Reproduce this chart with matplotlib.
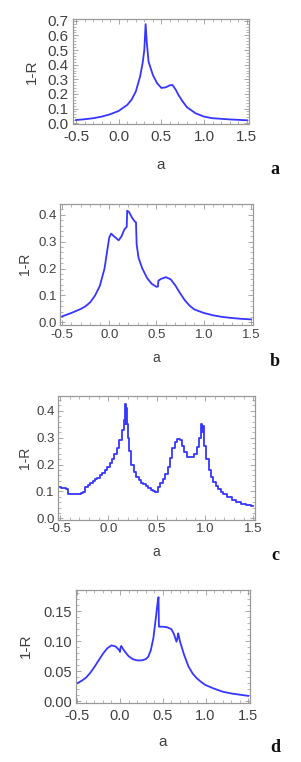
import matplotlib
matplotlib.use("Agg")
import matplotlib.pyplot as plt
from matplotlib.ticker import MultipleLocator, FormatStrFormatter

plt.rcParams['font.family'] = ['Liberation Sans', 'DejaVu Sans']

# panel a
xa = [-0.5, -0.4, -0.3, -0.2, -0.1, 0.0, 0.1, 0.15, 0.2, 0.25, 0.28, 0.30, 0.315,
      0.33, 0.35, 0.4, 0.45, 0.5, 0.55, 0.6, 0.63, 0.67, 0.7, 0.75, 0.8, 0.9, 1.0,
      1.1, 1.2, 1.3, 1.4, 1.5]
ya = [0.022, 0.027, 0.034, 0.045, 0.061, 0.084, 0.125, 0.16, 0.216, 0.318, 0.41, 0.5, 0.677,
      0.545, 0.42, 0.33, 0.273, 0.241, 0.245, 0.259, 0.261, 0.227, 0.193, 0.148, 0.109, 0.068, 0.045,
      0.034, 0.03, 0.026, 0.023, 0.02]

# panel b
xb = [-0.5, -0.4, -0.3, -0.25, -0.2, -0.15, -0.1, -0.05, -0.02, 0.0, 0.02, 0.05, 0.1,
      0.13, 0.16, 0.185, 0.19, 0.21, 0.24, 0.27, 0.283, 0.29, 0.31, 0.35, 0.4, 0.45,
      0.5, 0.515, 0.52, 0.55, 0.6, 0.65, 0.7, 0.75, 0.8, 0.85, 0.9, 1.0, 1.1, 1.2,
      1.3, 1.4, 1.5]
yb = [0.022, 0.035, 0.05, 0.06, 0.075, 0.1, 0.135, 0.2, 0.27, 0.315, 0.33, 0.32, 0.305,
      0.32, 0.345, 0.355, 0.415, 0.41, 0.39, 0.375, 0.372, 0.29, 0.24, 0.20, 0.165, 0.143,
      0.132, 0.133, 0.155, 0.162, 0.168, 0.16, 0.137, 0.108, 0.082, 0.062, 0.048, 0.035, 0.026, 0.02,
      0.016, 0.013, 0.011]

# panel c
xc = [-0.5, -0.475, -0.45, -0.425, -0.4, -0.375, -0.35, -0.325, -0.3, -0.275, -0.25,
      -0.225, -0.2, -0.175, -0.15, -0.125, -0.1, -0.075, -0.05, -0.025, 0.0, 0.025,
      0.05, 0.075, 0.1, 0.125, 0.15, 0.165, 0.175, 0.185, 0.19, 0.2, 0.21, 0.225,
      0.25, 0.275, 0.3, 0.325, 0.35, 0.375, 0.4, 0.425, 0.45, 0.475, 0.5, 0.525,
      0.55, 0.575, 0.6, 0.625, 0.65, 0.675, 0.7, 0.725, 0.75, 0.775, 0.8, 0.825,
      0.85, 0.875, 0.9, 0.925, 0.95, 0.965, 0.975, 0.98, 0.99, 1.0, 1.025, 1.05,
      1.075, 1.1, 1.125, 1.15, 1.175, 1.2, 1.25, 1.3, 1.35, 1.4, 1.45, 1.5]
yc = [0.115, 0.114, 0.113, 0.111, 0.092, 0.091, 0.091, 0.091, 0.092, 0.094, 0.097,
      0.118, 0.125, 0.131, 0.138, 0.145, 0.152, 0.160, 0.170, 0.180, 0.192, 0.205,
      0.222, 0.240, 0.262, 0.29, 0.33, 0.365, 0.425, 0.35, 0.41, 0.35, 0.30, 0.25,
      0.2, 0.172, 0.155, 0.142, 0.133, 0.127, 0.121, 0.113, 0.107, 0.101, 0.099, 0.118,
      0.13, 0.145, 0.165, 0.19, 0.225, 0.26, 0.285, 0.295, 0.29, 0.268, 0.245, 0.23,
      0.227, 0.228, 0.24, 0.265, 0.3, 0.35, 0.32, 0.345, 0.3, 0.27, 0.22, 0.18,
      0.155, 0.135, 0.12, 0.108, 0.098, 0.09, 0.078, 0.068, 0.06, 0.054, 0.049, 0.045]

# panel d
xd = [-0.5, -0.45, -0.4, -0.35, -0.3, -0.25, -0.2, -0.15, -0.1, -0.05, -0.01, 0.0,
      0.005, 0.015, 0.03, 0.06, 0.1, 0.15, 0.2, 0.25, 0.3, 0.33, 0.36, 0.39, 0.42,
      0.44, 0.45, 0.455, 0.5, 0.55, 0.6, 0.63, 0.66, 0.67, 0.68, 0.69, 0.70, 0.75,
      0.8, 0.85, 0.9, 0.95, 1.0, 1.1, 1.2, 1.3, 1.4, 1.5]
yd = [0.030, 0.034, 0.039, 0.047, 0.057, 0.068, 0.079, 0.088, 0.093, 0.091, 0.085, 0.082,
      0.089, 0.092, 0.088, 0.082, 0.075, 0.070, 0.068, 0.068, 0.070, 0.074, 0.085, 0.105, 0.14,
      0.165, 0.173, 0.124, 0.124, 0.123, 0.12, 0.112, 0.099, 0.104, 0.113, 0.107, 0.1, 0.077,
      0.058, 0.046, 0.038, 0.032, 0.027, 0.021, 0.016, 0.013, 0.011, 0.009]

W, H = 301, 762
fig = plt.figure(figsize=(W / 100, H / 100), dpi=100)

frame_col = '#999999'
text_col = '#404040'
line_col = '#3636ff'


def fx(px):
    return px / W


def fy(py):
    return 1 - py / H


panels = [
    dict(x=xa, y=ya, box=(73.3, 248.7, 19.3, 123.5), xlim=(-0.532, 1.523), ylim=(-0.002, 0.71),
         ymaj=0.1, ymin=0.02, fmt='%.1f', tsize=11, xpad=5, ypad=3.2, lsize=11,
         ylx=32, xly=165, letter='a', lety=170, ds=None),
    dict(x=xb, y=yb, box=(60, 252.7, 204, 324.5), xlim=(-0.521, 1.518), ylim=(-0.008, 0.44),
         ymaj=0.1, ymin=0.02, fmt='%.1f', tsize=9.5, xpad=3.4, ypad=2.4, lsize=10,
         ylx=25, xly=358, letter='b', lety=362, ds=None),
    dict(x=xc, y=yc, box=(58.3, 255, 396, 520), xlim=(-0.518, 1.518), ylim=(-0.006, 0.455),
         ymaj=0.1, ymin=0.02, fmt='%.1f', tsize=9.5, xpad=2.2, ypad=2.8, lsize=10,
         ylx=25, xly=552, letter='c', lety=556, ds='steps-mid'),
    dict(x=xd, y=yd, box=(76, 250, 590, 702.5), xlim=(-0.515, 1.52), ylim=(-0.002, 0.185),
         ymaj=0.05, ymin=0.01, fmt='%.2f', tsize=10.5, xpad=4.8, ypad=2.8, lsize=11,
         ylx=26, xly=742, letter='d', lety=747, ds=None),
]

for p in panels:
    left, right, top, bottom = p['box']
    ax = fig.add_axes([fx(left), fy(bottom), (right - left) / W, (bottom - top) / H])
    if p['ds']:
        ax.plot(p['x'], p['y'], color=line_col, lw=1.3, drawstyle=p['ds'])
    else:
        ax.plot(p['x'], p['y'], color=line_col, lw=1.3)
    ax.set_xlim(*p['xlim'])
    ax.set_ylim(*p['ylim'])
    ax.xaxis.set_major_locator(MultipleLocator(0.5))
    ax.xaxis.set_minor_locator(MultipleLocator(0.1))
    ax.yaxis.set_major_locator(MultipleLocator(p['ymaj']))
    ax.yaxis.set_minor_locator(MultipleLocator(p['ymin']))
    ax.xaxis.set_major_formatter(FormatStrFormatter('%.1f'))
    ax.yaxis.set_major_formatter(FormatStrFormatter(p['fmt']))
    ax.tick_params(which='both', direction='in', top=True, right=True,
                   color=frame_col, labelcolor=text_col, labelsize=p['tsize'])
    ax.tick_params(axis='x', pad=p['xpad'])
    ax.tick_params(axis='y', pad=p['ypad'])
    ax.tick_params(which='major', length=3.5, width=0.6)
    ax.tick_params(which='minor', length=2, width=0.5)
    for s in ax.spines.values():
        s.set_color(frame_col)
        s.set_linewidth(0.9)
    fig.text(fx(p['ylx']), fy((top + bottom) / 2), '1-R', color=text_col, fontsize=p['lsize'],
             rotation=90, ha='center', va='center')
    fig.text(fx((left + right) / 2), fy(p['xly']), 'a', color=text_col, fontsize=p['lsize'],
             ha='center', va='center')
    fig.text(fx(275), fy(p['lety']), p['letter'], color='#111111', fontsize=13,
             fontweight='bold', family='Liberation Serif', ha='center', va='center')

fig.savefig('out.png', dpi=100)
